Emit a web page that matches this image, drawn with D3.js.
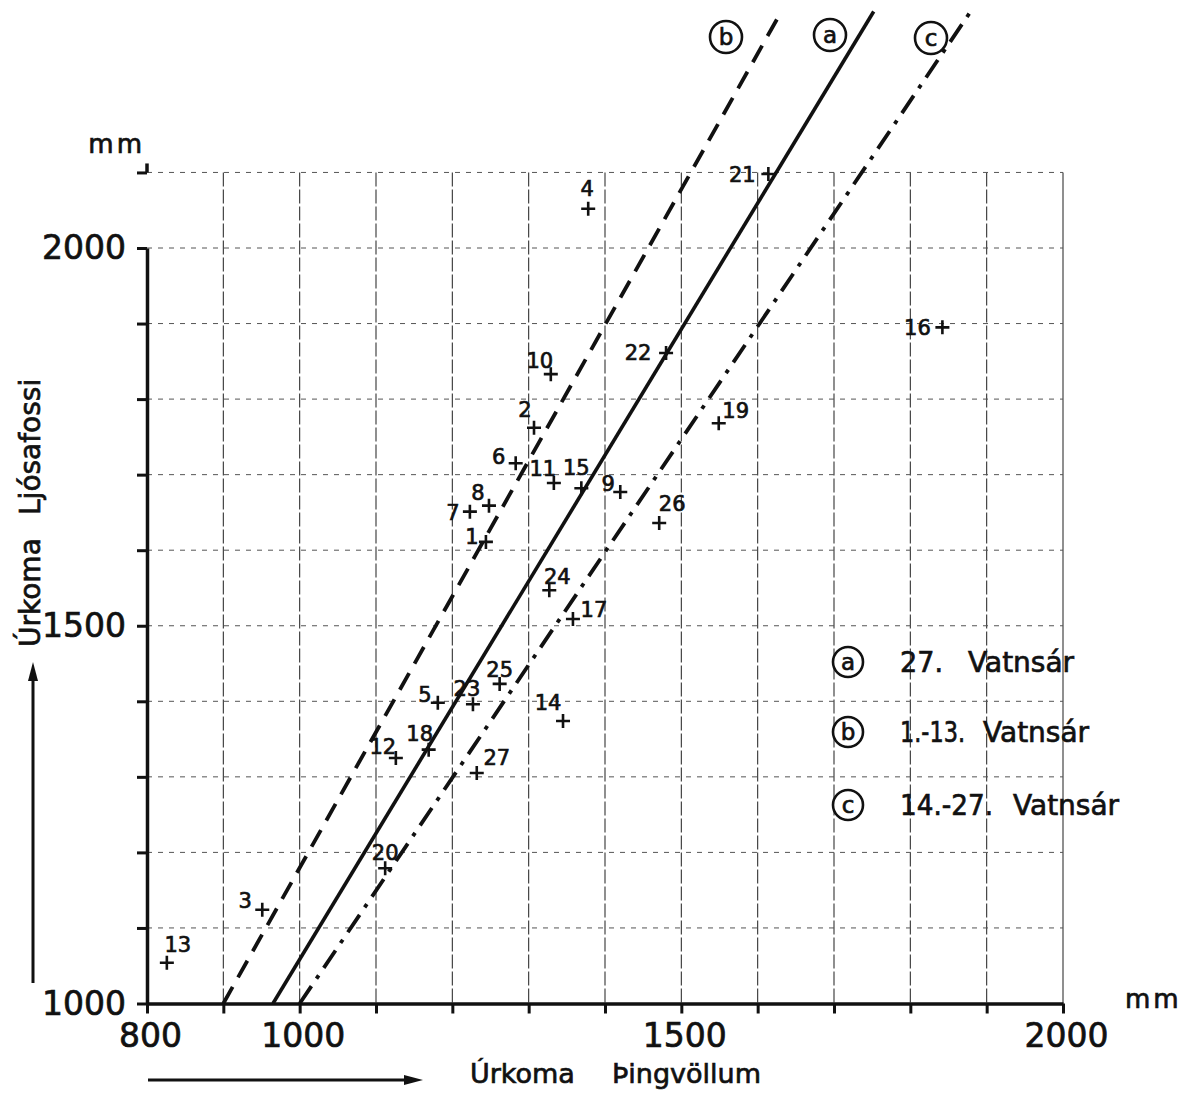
<!DOCTYPE html>
<html><head><meta charset="utf-8">
<script src="https://cdn.jsdelivr.net/npm/d3@7"></script>
<style>
body{margin:0;background:#fff}
svg{display:block}
text{font-family:"DejaVu Sans",sans-serif;fill:#111;stroke:#111;stroke-width:0.7px}
</style>
</head><body>
<svg id="c" width="1187" height="1099"></svg>
<script>
// ---- data ----
const pointIds = [1,2,3,4,5,6,7,8,9,10,11,12,13,14,15,16,17,18,19,20,21,22,23,24,25,26,27];
const thingvellir = [1244,1307,951,1378,1181,1283,1223,1248,1420,1329,1333,1126,826,1345,1369,1842,1358,1169,1549,1112,1614,1480,1227,1327,1262,1471,1232];
const ljosafoss  = [1611,1762,1124,2052,1398,1715,1651,1659,1677,1833,1689,1325,1054,1374,1682,1895,1509,1336,1768,1179,2098,1861,1396,1547,1423,1636,1305];
const xTicks = [800,900,1000,1100,1200,1300,1400,1500,1600,1700,1800,1900,2000];
const yTicks = [1000,1100,1200,1300,1400,1500,1600,1700,1800,1900,2000,2100];
const xTickLabels = [800,1000,1500,2000];
const yTickLabels = [1000,1500,2000];
const lineKeys = ["a","b","c"];
const lineX0 = [965,900,1000];
const lineY0 = [1000,1000,1000];
const lineX1 = [1752,1631,1879];
const lineY1 = [2313,2313,2313];
const legendKeys = ["a","b","c"];
const legendPrefix = ["27.","1.-13.","14.-27."];
const legendWord = "Vatnsár";
const xTitle = ["Úrkoma","Þingvöllum"];
const yTitle = ["Úrkoma","Ljósafossi"];
const unit = "mm";

// ---- layout (not data) ----
const labelOffsets = [[-14,-5],[-9,-18],[-17,-9],[-1,-20],[-13,-8],[-17,-7],[-17,1],[-11,-13],[-12,-9],[-11,-14],[-11,-14],[-13,-11],[11,-18],[-15,-18],[-5,-21],[-25,0],[21,-9],[-9,-16],[17,-13],[0,-16],[-26,1],[-28,-1],[-6,-16],[8,-14],[0,-14],[13,-20],[20,-16]];
const lineStyle = {a:{dash:null,w:3.6},b:{dash:"19,11",w:3.8},c:{dash:"21,9,4,9",w:3.8}};
const topBadges = {a:[830,35],b:[726,37],c:[931,38]};
const legendY = [672,742,815];
const legendPrefixW = [43,65,93];
const legendWordX = [968,983,1013];

const svg = d3.select("#c");
const x = d3.scaleLinear().domain([800,2000]).range([147,1063]);
const y = d3.scaleLinear().domain([1000,2000]).range([1003.5,248]);

// grid
const g = svg.append("g");
g.selectAll(".vg").data(xTicks.filter(d=>d>800)).join("line")
  .attr("x1",d=>x(d)).attr("x2",d=>x(d)).attr("y1",y(2100)).attr("y2",y(1000))
  .attr("stroke","#333").attr("stroke-width",1.1).attr("stroke-dasharray",d=>d===2000?null:"14,3");
g.selectAll(".hg").data(yTicks.filter(d=>d>1000)).join("line")
  .attr("x1",x(800)).attr("x2",x(2000)).attr("y1",d=>y(d)).attr("y2",d=>y(d))
  .attr("stroke","#555").attr("stroke-width",1).attr("stroke-dasharray","5,6");

// axes
const yAxis = d3.axisLeft(y).tickValues(yTicks).tickSize(10).tickSizeOuter(0).tickPadding(11)
  .tickFormat(d=>yTickLabels.includes(d)?d:"");
const ya = svg.append("g").attr("transform",`translate(${x(800)},0)`).call(yAxis);
const xAxis = d3.axisBottom(x).tickValues(xTicks).tickSize(10).tickSizeOuter(0).tickPadding(10)
  .tickFormat(d=>xTickLabels.includes(d)?d:"");
const xa = svg.append("g").attr("transform",`translate(0,${y(1000)})`).call(xAxis);
[ya,xa].forEach(a=>{
  a.select(".domain").attr("stroke","#111").attr("stroke-width",3.5);
  a.selectAll(".tick line").attr("stroke","#111").attr("stroke-width",3);
  a.selectAll(".tick text").attr("font-family","DejaVu Sans, sans-serif").attr("font-size",33).attr("fill","#111");
});
xa.selectAll(".tick text").attr("dx",3);
// axis extension above top tick
svg.append("line").attr("x1",x(800)).attr("x2",x(800)).attr("y1",y(2100)).attr("y2",y(2100)-9)
  .attr("stroke","#111").attr("stroke-width",3.5);

// unit labels
svg.append("text").attr("x",145).attr("y",153).attr("text-anchor","end").attr("font-size",26).attr("letter-spacing",3).text(unit);
svg.append("text").attr("x",1125).attr("y",1008).attr("font-size",26).attr("letter-spacing",3).text(unit);

// regression lines
lineKeys.forEach((k,i)=>{
  const s = lineStyle[k];
  svg.append("line").attr("x1",x(lineX0[i])).attr("y1",y(lineY0[i])).attr("x2",x(lineX1[i])).attr("y2",y(lineY1[i]))
    .attr("stroke","#111").attr("stroke-width",s.w).attr("stroke-dasharray",s.dash);
  const [bx,by] = topBadges[k];
  svg.append("circle").attr("cx",bx).attr("cy",by).attr("r",16).attr("fill","#fff").attr("stroke","#111").attr("stroke-width",2.6);
  svg.append("text").attr("x",bx).attr("y",by+8).attr("text-anchor","middle").attr("font-size",23).text(k);
});

// points
const pts = pointIds.map((id,i)=>({id,x:thingvellir[i],y:ljosafoss[i],o:labelOffsets[i]}));
svg.selectAll(".pt").data(pts).join("path")
  .attr("d",d=>`M${x(d.x)-7},${y(d.y)}H${x(d.x)+7}M${x(d.x)},${y(d.y)-7}V${y(d.y)+7}`)
  .attr("stroke","#111").attr("stroke-width",2.6);
svg.selectAll(".pl").data(pts).join("text")
  .attr("x",d=>x(d.x)+d.o[0]).attr("y",d=>y(d.y)+d.o[1]+7.5)
  .attr("text-anchor","middle").attr("font-size",21).text(d=>d.id);

// legend
legendKeys.forEach((k,i)=>{
  const cy = legendY[i]-10;
  svg.append("circle").attr("cx",848).attr("cy",cy).attr("r",15).attr("fill","#fff").attr("stroke","#111").attr("stroke-width",2.6);
  svg.append("text").attr("x",848).attr("y",cy+8).attr("text-anchor","middle").attr("font-size",23).text(k);
  svg.append("text").attr("x",900).attr("y",legendY[i]).attr("font-size",28)
    .attr("textLength",legendPrefixW[i]).attr("lengthAdjust","spacingAndGlyphs").text(legendPrefix[i]);
  svg.append("text").attr("x",legendWordX[i]).attr("y",legendY[i]).attr("font-size",28).text(legendWord);
});

// axis titles
const xt = svg.append("text").attr("y",1083).attr("font-size",27);
xt.append("tspan").attr("x",470).text(xTitle[0]);
xt.append("tspan").attr("x",612).text(xTitle[1]);
const yt = svg.append("text").attr("transform","translate(40,647) rotate(-90)").attr("font-size",28);
yt.append("tspan").attr("x",0).text(yTitle[0]);
yt.append("tspan").attr("x",132).text(yTitle[1]);

// arrows
svg.append("line").attr("x1",33).attr("x2",33).attr("y1",983).attr("y2",676).attr("stroke","#111").attr("stroke-width",3);
svg.append("path").attr("d","M33,662 L28,681 L38,681 Z").attr("fill","#111");
svg.append("line").attr("x1",148).attr("x2",408).attr("y1",1080).attr("y2",1080).attr("stroke","#111").attr("stroke-width",3);
svg.append("path").attr("d","M423,1080 L404,1075 L404,1085 Z").attr("fill","#111");
</script>
</body></html>
